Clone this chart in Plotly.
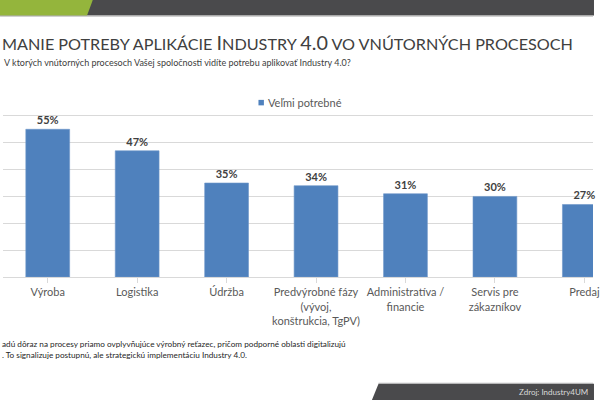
import plotly.graph_objects as go

categories = ["Výroba", "Logistika", "Údržba",
              "Predvýrobné fázy<br>(vývoj,<br>konštrukcia, TgPV)",
              "Administratíva /<br>financie", "Servis pre<br>zákazníkov", "Predaj"]
values = [55, 47, 35, 34, 31, 30, 27]
series_name = "Veľmi potrebné"

W, H = 600, 400
L, R = 3, 600          # plot area left/right px
T, B = 88.6, 277       # plot area top/bottom px
FONT = "Lato"


def px(x):
    return (x - L) / (R - L)


def py(y):
    return (B - y) / (B - T)


fig = go.Figure()
fig.add_trace(go.Bar(
    x=list(range(len(categories))), y=values, name=series_name,
    marker=dict(color="#4F81BD", line=dict(color="#6f97c9", width=0.6)),
    width=0.49,
    text=[f"{v}%" for v in values], textposition="outside",
    textfont=dict(family=FONT, size=11, color="#404040", weight="bold"),
    cliponaxis=False, showlegend=False,
))

shapes = [
    # top band
    dict(type="rect", xref="paper", yref="paper", x0=px(0), x1=px(601), y0=py(-1), y1=py(15),
         fillcolor="#4a4a4c", line=dict(width=0), layer="above"),
    dict(type="path", xref="paper", yref="paper",
         path=f"M {px(-1)},{py(-1)} L {px(94)},{py(-1)} L {px(88)},{py(15)} L {px(-1)},{py(15)} Z",
         fillcolor="#94b53c", line=dict(width=0), layer="above"),
    dict(type="line", xref="paper", yref="paper", x0=px(0), x1=px(600), y0=py(15.8), y1=py(15.8),
         line=dict(color="#c8c8c8", width=1)),
    # footer band
    dict(type="path", xref="paper", yref="paper",
         path=f"M {px(376)},{py(401)} L {px(383)},{py(384)} L {px(601)},{py(384)} L {px(601)},{py(401)} Z",
         fillcolor="#4a4a4c", line=dict(width=0), layer="above"),
    dict(type="line", xref="paper", yref="paper", x0=px(383), x1=px(600), y0=py(383.5), y1=py(383.5),
         line=dict(color="#b0b0b0", width=1)),
    # legend marker
    dict(type="rect", xref="paper", yref="paper", x0=px(261.5), x1=px(267), y0=py(99.5), y1=py(105),
         fillcolor="#4F81BD", line=dict(width=0)),
]

S, Bg = 16.2, 19.8
title = (f"MANIE POTREBY APLIKÁCIE <span style='font-size:{Bg}px'>I</span>NDUSTRY "
         f"<span style='font-size:{Bg}px'>4.0</span> VO VNÚTORNÝCH PROCESOCH")

annotations = [
    dict(text=title, x=px(0), y=py(42), xref="paper", yref="paper", xanchor="left", yanchor="middle",
         showarrow=False, font=dict(family=FONT, size=S, color="#404040")),
    dict(text="V ktorých vnútorných procesoch Vašej spoločnosti vidíte potrebu aplikovať Industry 4.0?",
         x=px(2), y=py(62), xref="paper", yref="paper", xanchor="left", yanchor="middle",
         showarrow=False, font=dict(family=FONT, size=9, color="#404040")),
    dict(text=series_name, x=px(269), y=py(102.5), xref="paper", yref="paper", xanchor="left",
         yanchor="middle", showarrow=False, font=dict(family=FONT, size=11, color="#595959")),
    dict(text="adú dôraz na procesy priamo ovplyvňujúce výrobný reťazec, pričom podporné oblasti digitalizujú<br>"
              ". To signalizuje postupnú, ale strategickú implementáciu Industry 4.0.",
         x=px(0), y=py(350), xref="paper", yref="paper", xanchor="left", yanchor="middle", align="left",
         showarrow=False, font=dict(family=FONT, size=8.2, color="#262626")),
    dict(text="Zdroj: Industry4UM", x=px(597), y=py(392), xref="paper", yref="paper", xanchor="right",
         yanchor="middle", showarrow=False, font=dict(family=FONT, size=8, color="#d9d9d9")),
]

fig.update_layout(
    width=W, height=H,
    margin=dict(l=L, r=W - R, t=T, b=H - B, pad=0),
    paper_bgcolor="white", plot_bgcolor="white",
    font=dict(family=FONT),
    bargap=0.5,
    shapes=shapes, annotations=annotations,
    xaxis=dict(
        range=[-0.5, -0.5 + (R - L) / 90.5],
        tickmode="array", tickvals=list(range(len(categories))), ticktext=categories,
        ticklabeloverflow="allow",
        showgrid=False, showline=True, linecolor="#d9d9d9", linewidth=1,
        ticks="outside", ticklen=5, tickcolor="#d9d9d9",
        tickfont=dict(family=FONT, size=11, color="#595959"),
        zeroline=False, fixedrange=True,
    ),
    yaxis=dict(
        range=[0, 70], dtick=10, showticklabels=False, showgrid=True,
        gridcolor="#d9d9d9", gridwidth=1, zeroline=False, showline=False, fixedrange=True,
    ),
)

fig.write_html("out.html", config={"displayModeBar": False},
               post_script="document.body.style.margin='0';document.body.style.overflow='hidden';")
